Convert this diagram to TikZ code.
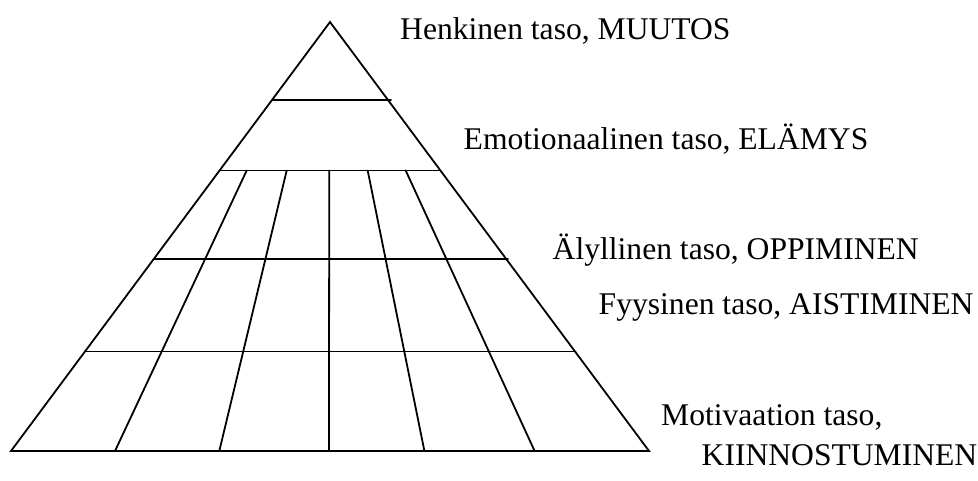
\documentclass[tikz,border=0pt]{standalone}
\usepackage{fontspec}
\setmainfont{Liberation Serif}
\begin{document}
\begin{tikzpicture}[x=1pt,y=-1pt,
  edge/.style={line width=1.8pt,line cap=round,line join=miter},
  lbl/.style={anchor=base west,inner sep=0pt,font=\fontsize{31.6}{36}\selectfont}]
\useasboundingbox (0,0) rectangle (978,481);
% triangle corners
\coordinate (apex) at (330,22);
\coordinate (bl) at (11,451);
\coordinate (br) at (649,451);
\draw[edge] (bl) -- (apex) -- (br) -- cycle;
% horizontal levels
\coordinate (h1l) at (272.5,100); \coordinate (h1r) at (391,100);
\coordinate (h2l) at (220,170.5); \coordinate (h2r) at (440,170.5);
\coordinate (h3l) at (153.5,259); \coordinate (h3r) at (508,259);
\coordinate (h4l) at (85.5,351.5); \coordinate (h4r) at (575.5,351.5);
\draw[edge] (h1l) -- (h1r);
\draw[edge] (h2l) -- (h2r);
\draw[edge] (h3l) -- (h3r);
\draw[edge] (h4l) -- (h4r);
% dividers
\coordinate (d1t) at (246.7,170.5); \coordinate (d1b) at (115,451);
\coordinate (d2t) at (286.7,170.5); \coordinate (d2b) at (219.3,451);
\coordinate (d3t) at (329.3,170.5); \coordinate (d3b) at (328.9,451);
\coordinate (d4t) at (367.7,170.5); \coordinate (d4b) at (424.4,451);
\coordinate (d5t) at (405.7,170.5); \coordinate (d5b) at (534.6,451);
\foreach \i in {1,...,5} \draw[edge] (d\i t) -- (d\i b);
% labels
\node[lbl] (t1) at (400,40) {Henkinen taso, MUUTOS};
\node[lbl] (t2) at (463.5,150) {Emotionaalinen taso, ELÄMYS};
\node[lbl] (t3) at (552.5,260) {Älyllinen taso, OPPIMINEN};
\node[lbl] (t4) at (598.5,315) {Fyysinen taso, AISTIMINEN};
\node[lbl] (t5) at (661,425.5) {Motivaation taso,};
\node[lbl] (t6) at (701.5,465) {KIINNOSTUMINEN};
\end{tikzpicture}
\end{document}
